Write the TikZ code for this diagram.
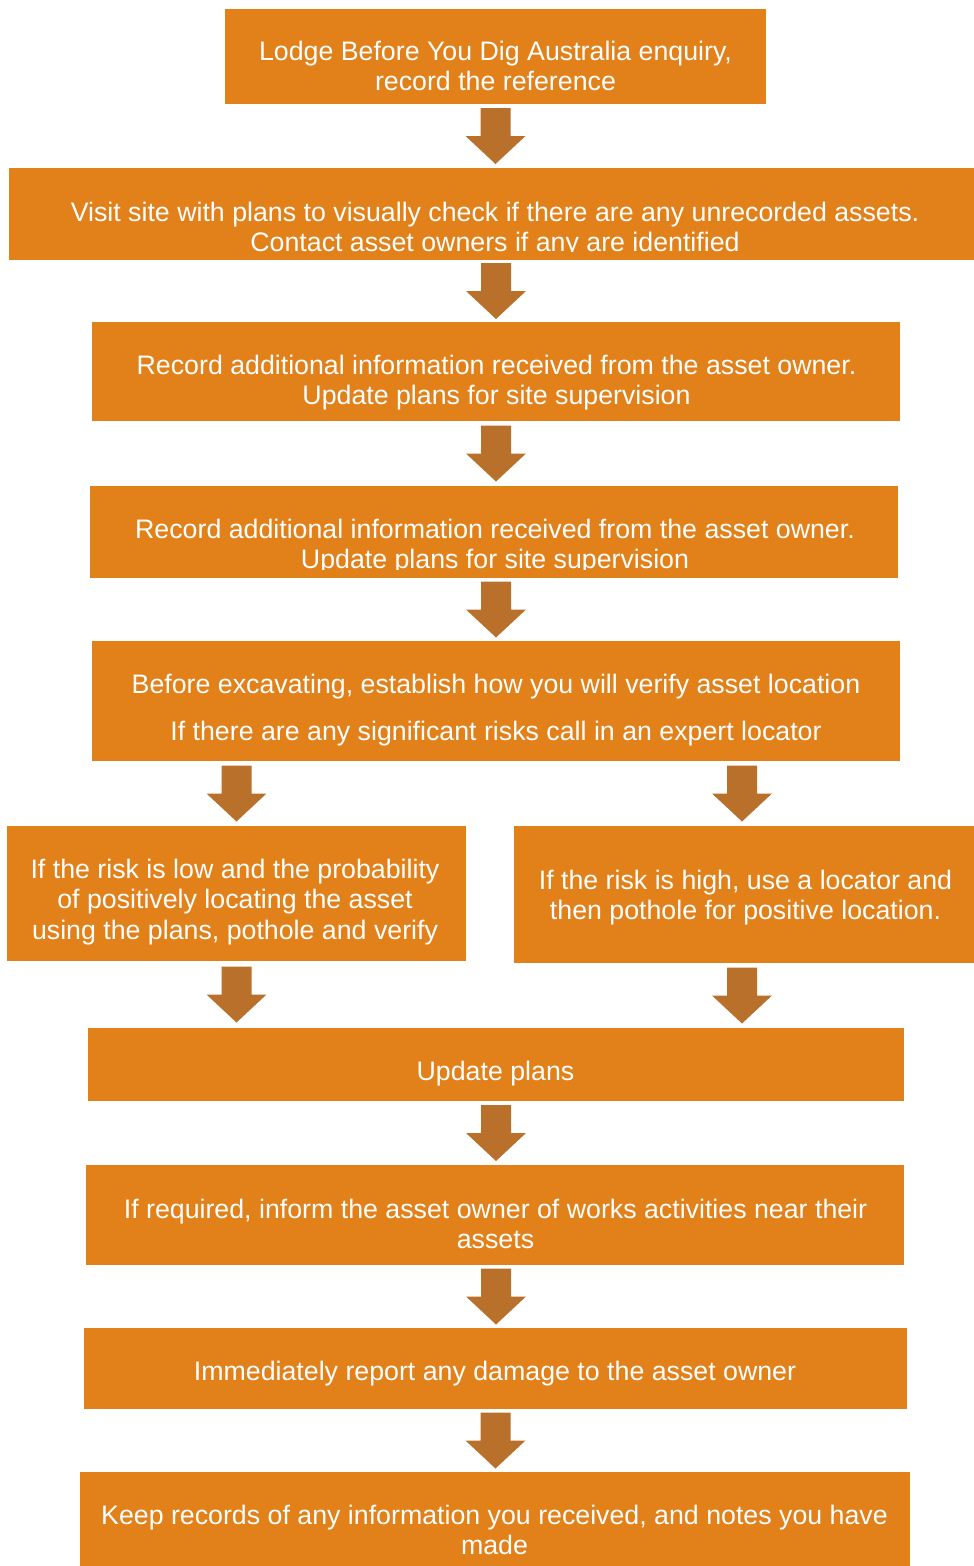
\documentclass[tikz,border=0pt]{standalone}
\usepackage{fontspec}
\setmainfont{Liberation Sans}
\usetikzlibrary{calc,fit}
\definecolor{boxc}{RGB}{226,128,26}
\definecolor{arrowc}{RGB}{184,112,42}
\newcommand\sr{\rule[-7pt]{0pt}{29pt}}
\newcommand\blockarrow[4][0]{%
  \coordinate (m) at ($(#4 |- #2)!0.5!(#4 |- #3)+(#1,0)$);
  \fill[arrowc] ($(m)+(-15,-28)$) -- ($(m)+(15,-28)$) -- ($(m)+(15,0)$) -- ($(m)+(30,0)$)
    -- ($(m)+(0,28)$) -- ($(m)+(-30,0)$) -- ($(m)+(-15,0)$) -- cycle;}
\begin{document}
\begin{tikzpicture}[x=1pt,y=-1pt,
  box/.style={fill=boxc, draw=none, inner sep=0pt},
  txt/.style={text=white, align=center, inner sep=0pt, anchor=north,
    font=\fontsize{26.75}{30.5}\selectfont}]
\useasboundingbox (0,0) rectangle (974,1566);
\fill[white] (0,0) rectangle (974,1566);
% boxes
\node[box, fit={(225,9) (766,104)}] (b1) {};
\node[box, fit={(9,168) (974,260)}] (b2) {};
\node[box, fit={(92,322) (900,421)}] (b3) {};
\node[box, fit={(90,486) (898,578)}] (b4) {};
\node[box, fit={(92,641) (900,761)}] (b5) {};
\node[box, fit={(7,826) (466,961)}] (b6L) {};
\node[box, fit={(514,826) (974,963)}] (b6R) {};
\node[box, fit={(88,1028) (904,1101)}] (b7) {};
\node[box, fit={(86,1165) (904,1265)}] (b8) {};
\node[box, fit={(84,1328) (907,1409)}] (b9) {};
\node[box, fit={(80,1472) (910,1566)}] (b10) {};
% texts
\node[txt] (t1) at (495.5,38) {\sr Lodge Before You Dig Australia enquiry,\\\sr record the reference};
\begin{scope}
\clip (0,160) rectangle (974,251.5);
\node[txt] (t2) at (495,199) {\sr Visit site with plans to visually check if there are any unrecorded assets.\\\sr Contact asset owners if any are identified};
\end{scope}
\node[txt] (t3) at (496.5,352) {\sr Record additional information received from the asset owner.\\\sr Update plans for site supervision};
\begin{scope}
\clip (0,480) rectangle (974,569);
\node[txt] (t4) at (495,516) {\sr Record additional information received from the asset owner.\\\sr Update plans for site supervision};
\end{scope}
\node[txt] (t5) at (496,671) {\sr Before excavating, establish how you will verify asset location\\[16.5pt]\sr If there are any significant risks call in an expert locator};
\node[txt] (t6L) at (235,856) {\sr If the risk is low and the probability\\\sr of positively locating the asset\\\sr using the plans, pothole and verify};
\node[txt] (t6R) at (745.5,867) {\sr If the risk is high, use a locator and\\\sr then pothole for positive location.};
\node[txt] (t7) at (495.5,1058) {\sr Update plans};
\node[txt] (t8) at (495.5,1196) {\sr If required, inform the asset owner of works activities near their\\\sr assets};
\node[txt] (t9) at (495,1358) {\sr Immediately report any damage to the asset owner};
\node[txt] (t10) at (494.5,1502) {\sr Keep records of any information you received, and notes you have\\\sr made};
% arrows
\blockarrow{b1.south}{b2.north}{b1.south}
\blockarrow{b2.south}{b3.north}{b3.north}
\blockarrow{b3.south}{b4.north}{b3.south}
\blockarrow{b4.south}{b5.north}{b5.north}
\blockarrow{b5.south}{b6L.north}{b6L.north}
\blockarrow[-2]{b5.south}{b6R.north}{b6R.north}
\blockarrow{b6L.south}{b7.north}{b6L.south}
\blockarrow[-2]{b6R.south}{b7.north}{b6R.south}
\blockarrow{b7.south}{b8.north}{b7.south}
\blockarrow{b8.south}{b9.north}{b7.south}
\blockarrow{b9.south}{b10.north}{b9.south}
\end{tikzpicture}
\end{document}
